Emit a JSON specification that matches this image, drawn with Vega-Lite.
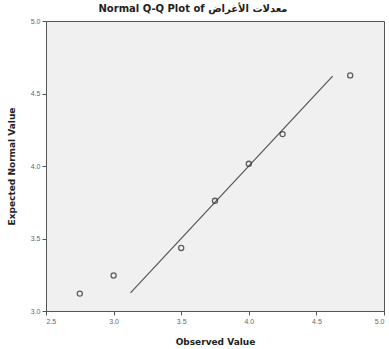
{
  "$schema": "https://vega.github.io/schema/vega-lite/v6.json",
  "width": 338,
  "height": 290,
  "autosize": "none",
  "padding": {"left": 46, "top": 21, "right": 5, "bottom": 38},
  "background": "white",
  "title": {"text": "Normal Q-Q Plot of معدلات الأغراض", "fontSize": 10, "fontWeight": "bold", "font": "DejaVu Sans", "color": "#222", "dx": -22, "offset": 3},
  "config": {
    "view": {"fill": "#f0f0f0", "stroke": "#555", "strokeWidth": 1},
    "axis": {"grid": false, "domainColor": "#555", "tickColor": "#555", "labelColor": "#666", "labelFontSize": 7, "tickSize": 4, "titleFontSize": 9, "titleFontWeight": "bold", "titleColor": "#222", "titleFont": "DejaVu Sans"}
  },
  "datasets": {
    "pts": [
      {"observed": 2.75, "expected": 3.12},
      {"observed": 3.0, "expected": 3.245},
      {"observed": 3.5, "expected": 3.435},
      {"observed": 3.75, "expected": 3.76},
      {"observed": 4.0, "expected": 4.015},
      {"observed": 4.25, "expected": 4.22},
      {"observed": 4.75, "expected": 4.625}
    ],
    "ref": [
      {"observed": 3.125, "expected": 3.125},
      {"observed": 4.62, "expected": 4.62}
    ]
  },
  "layer": [
    {
      "data": {"name": "ref"},
      "mark": {"type": "line", "color": "#555", "strokeWidth": 1.2},
      "encoding": {
        "x": {"field": "observed", "type": "quantitative", "scale": {"domain": [2.5, 5.0], "nice": false}, "axis": {"values": [2.5, 3.0, 3.5, 4.0, 4.5, 5.0], "format": ".1f", "title": "Observed Value", "titleY": 26}},
        "y": {"field": "expected", "type": "quantitative", "scale": {"domain": [3.0, 5.0], "nice": false, "zero": false}, "axis": {"values": [3.0, 3.5, 4.0, 4.5, 5.0], "format": ".1f", "title": "Expected Normal Value", "titleX": -30}}
      }
    },
    {
      "data": {"name": "pts"},
      "mark": {"type": "point", "shape": "circle", "filled": false, "color": "#222", "size": 26, "strokeWidth": 1.3},
      "encoding": {
        "x": {"field": "observed", "type": "quantitative"},
        "y": {"field": "expected", "type": "quantitative"}
      }
    }
  ]
}
